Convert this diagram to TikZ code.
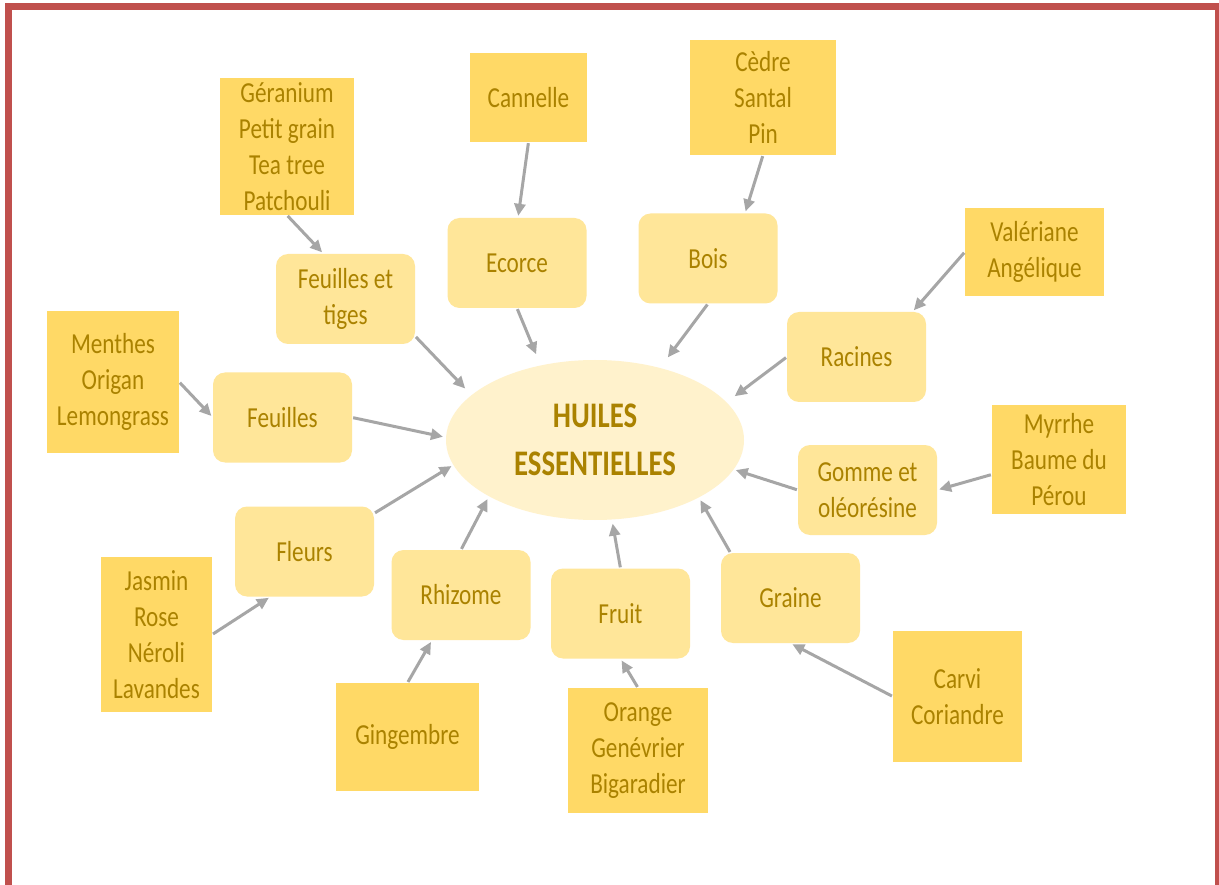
\documentclass[tikz,border=0pt]{standalone}
\usepackage{fontspec}
\setmainfont[FakeStretch=0.8]{Carlito}
\usetikzlibrary{arrows.meta,shapes.geometric}
\definecolor{txtgold}{RGB}{170,130,0}
\definecolor{srcfill}{RGB}{255,217,102}
\definecolor{grpfill}{RGB}{255,230,153}
\definecolor{hefill}{RGB}{255,242,204}
\definecolor{arrgray}{RGB}{166,166,166}
\definecolor{framered}{RGB}{192,80,77}
\begin{document}
\begin{tikzpicture}[x=1pt,y=-1pt]
  %
  \tikzstyle{src} = [fill=srcfill, text=txtgold, align=center, inner sep=0pt, font=\fontsize{29}{36}\selectfont]
  \tikzstyle{grp} = [fill=grpfill, rounded corners=12pt, text=txtgold, align=center, inner sep=0pt, minimum width=139pt, minimum height=90pt, font=\fontsize{29}{36}\selectfont]
  \tikzstyle{arr} = [draw=arrgray, line width=3pt, -{Triangle[length=12pt,width=11pt]}, shorten <=1pt, shorten >=2pt]
  \useasboundingbox (0,0) rectangle (1219,885);
  \clip (0,0) rectangle (1219,885);
  \fill[white] (0,0) rectangle (1219,885);
  \draw[framered, line width=7pt] (8.5,6.5) rectangle (1218.5,900);
  % centre
  \node[ellipse, fill=hefill, minimum width=298pt, minimum height=160pt, inner sep=0pt, text=txtgold, align=center, font=\bfseries\fontsize{36}{48}\selectfont] (he) at (595,440) {HUILES\\ESSENTIELLES};
  % parts of the plant
  \node[grp] (fet) at (345.5,299) {Feuilles et\\tiges};
  \node[grp] (eco) at (517,263) {Ecorce};
  \node[grp] (boi) at (708,258.5) {Bois};
  \node[grp] (rac) at (856.5,357) {Racines};
  \node[grp] (feu) at (282.5,417.5) {Feuilles};
  \node[grp] (gom) at (867.5,490) {Gomme et\\oléorésine};
  \node[grp] (fle) at (304.5,551.5) {Fleurs};
  \node[grp] (rhi) at (461,595) {Rhizome};
  \node[grp] (fru) at (620.5,613.5) {Fruit};
  \node[grp] (gra) at (790.5,598) {Graine};
  % plants
  \node[src, minimum width=134pt, minimum height=137pt] (ger) at (287,146.5) {Géranium\\Petit grain\\Tea tree\\Patchouli};
  \node[src, minimum width=117pt, minimum height=89pt] (can) at (528.5,97.5) {Cannelle};
  \node[src, minimum width=146pt, minimum height=115pt] (ced) at (763,97.5) {Cèdre\\Santal\\Pin};
  \node[src, minimum width=139pt, minimum height=88pt] (val) at (1034.5,252) {Valériane\\Angélique};
  \node[src, minimum width=132pt, minimum height=142pt] (men) at (113,382) {Menthes\\Origan\\Lemongrass};
  \node[src, minimum width=134pt, minimum height=109pt] (myr) at (1059,459.5) {Myrrhe\\Baume du\\Pérou};
  \node[src, minimum width=111pt, minimum height=155pt] (jas) at (156.5,634.5) {Jasmin\\Rose\\Néroli\\Lavandes};
  \node[src, minimum width=143pt, minimum height=108pt] (gin) at (407.5,737) {Gingembre};
  \node[src, minimum width=140pt, minimum height=125pt] (ora) at (638,750.5) {Orange\\Genévrier\\Bigaradier};
  \node[src, minimum width=129pt, minimum height=131pt] (car) at (957.5,696.5) {Carvi\\Coriandre};
  % plants to parts
  \draw[arr] (ger.south) -- ([xshift=-22pt]fet.north);
  \draw[arr] (can.south) -- ([xshift=1pt]eco.north);
  \draw[arr] (ced.south) -- ([xshift=37pt]boi.north);
  \draw[arr] (val.west) -- ([xshift=56pt]rac.north);
  \draw[arr] (men.east) -- (feu.west);
  \draw[arr] ([yshift=-15pt]myr.west) -- (gom.east);
  \draw[arr] (jas.east) -- ([xshift=-34pt]fle.south);
  \draw[arr] (gin.north) -- ([xshift=-29pt]rhi.south);
  \draw[arr] (ora.north) -- (fru.south);
  \draw[arr] (car.west) -- (gra.south);
  % parts to centre
  \draw[arr, shorten >=9pt] ([yshift=8pt]fet.south east) -- (he.160);
  \draw[arr, shorten >=12pt] (eco.south) -- (he.126);
  \draw[arr, shorten >=13pt] (boi.south) -- (he.48);
  \draw[arr, shorten >=10pt] (rac.west) -- (he.16);
  \draw[arr, shorten >=3pt] (feu.east) -- (he.179);
  \draw[arr] (gom.west) -- (he.-12);
  \draw[arr] ([yshift=-7pt]fle.north east) -- (he.190);
  \draw[arr, shorten >=3pt] (rhi.north) -- (he.208);
  \draw[arr, shorten >=4pt] (fru.north) -- (he.-78);
  \draw[arr, shorten >=3pt] ([xshift=-60pt]gra.north) -- (he.-29);
\end{tikzpicture}
\end{document}
